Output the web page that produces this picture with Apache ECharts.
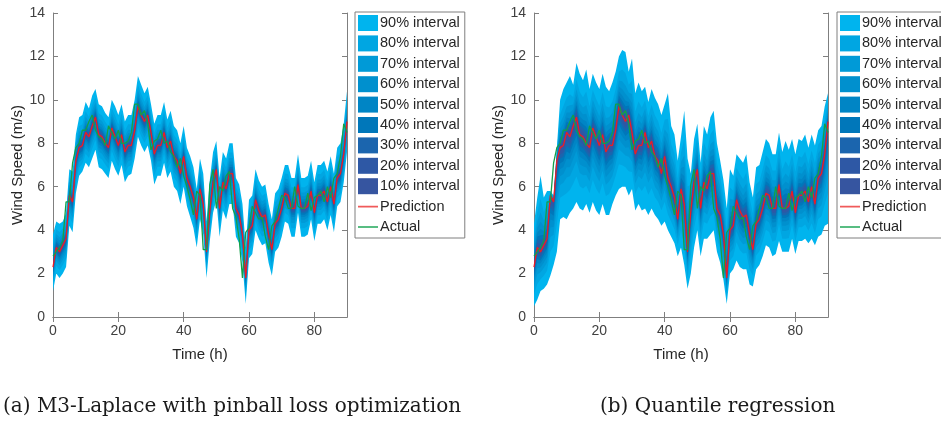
<!DOCTYPE html>
<html>
<head>
<meta charset="utf-8">
<script src="https://cdn.jsdelivr.net/npm/echarts@6/dist/echarts.min.js"></script>
<style>
  html, body { margin: 0; background: #fff; }
  #chart { width: 941px; height: 425px; }
</style>
</head>
<body>
<div id="chart"></div>
<script>
"use strict";

// hours 0..90 (x axis categories)
const hours = Array.from({ length: 91 }, (_, i) => String(i));

const prediction = [
  2.3, 3.2, 3.0, 3.3, 3.6, 5.6, 5.3, 7.2, 7.8, 7.9,
  8.5, 8.3, 8.8, 9.2, 8.4, 8.3, 8.0, 7.8, 8.7, 8.3,
  7.9, 8.4, 7.6, 7.9, 7.9, 8.6, 9.7, 9.3, 9.0, 9.3,
  8.5, 7.5, 7.9, 7.9, 8.5, 7.8, 8.1, 7.4, 7.2, 6.6,
  7.4, 6.4, 6.0, 5.5, 4.5, 5.9, 5.2, 3.0, 4.9, 6.2,
  6.8, 5.0, 6.2, 5.9, 6.6, 6.6, 5.0, 4.7, 3.8, 1.8,
  4.0, 4.2, 5.4, 4.9, 4.6, 4.7, 3.8, 3.1, 4.3, 4.5,
  5.0, 5.7, 5.6, 5.0, 5.0, 6.1, 5.0, 5.0, 5.1, 5.8,
  4.8, 5.6, 5.6, 5.8, 5.3, 6.0, 5.2, 6.4, 6.6, 7.5,
  9.0,
];

const actual = [
  2.8, 3.0, 3.2, 3.5, 5.3, 5.3, 7.1, 7.8, 8.0, 8.6,
  8.6, 9.0, 9.3, 8.6, 8.3, 8.2, 7.9, 8.8, 8.5, 8.2,
  8.6, 8.0, 8.0, 8.1, 8.5, 9.8, 9.8, 9.3, 9.5, 8.9,
  7.7, 8.1, 8.2, 8.6, 8.0, 8.1, 7.6, 7.4, 6.9, 7.3,
  6.5, 6.0, 5.4, 4.7, 5.8, 5.6, 3.1, 3.1, 6.1, 6.8,
  5.0, 6.0, 5.8, 6.5, 6.7, 5.0, 4.6, 3.6, 1.8, 3.9,
  4.1, 5.1, 4.8, 4.5, 4.6, 3.7, 3.1, 4.2, 4.4, 5.0,
  5.6, 5.5, 5.0, 5.0, 6.0, 5.1, 5.0, 5.0, 5.7, 4.9,
  5.5, 5.6, 5.8, 5.3, 6.0, 5.5, 6.4, 6.6, 7.4, 8.9,
  8.5,
];

// 90% interval bounds, panel (a) M3-Laplace
const laplaceUpper = [
  3.8, 4.4, 4.3, 4.4, 4.8, 6.8, 6.7, 8.4, 9.2, 9.3,
  9.9, 9.6, 10.2, 10.5, 9.8, 9.7, 9.4, 9.2, 10.0, 9.7,
  9.3, 9.8, 9.0, 9.3, 9.3, 10.0, 11.1, 10.7, 10.3, 10.6,
  9.8, 8.9, 9.3, 9.3, 9.9, 9.1, 9.5, 8.8, 8.6, 8.0,
  8.8, 7.8, 7.4, 6.9, 5.9, 7.3, 6.6, 4.4, 6.3, 7.6,
  8.1, 6.4, 7.6, 7.3, 8.0, 8.0, 6.4, 6.1, 5.2, 3.2,
  5.4, 5.6, 6.8, 6.3, 6.0, 6.1, 5.2, 4.5, 5.7, 5.9,
  6.4, 7.0, 7.0, 6.4, 6.4, 7.5, 6.4, 6.4, 6.5, 7.2,
  6.2, 7.0, 7.0, 7.2, 6.7, 7.4, 6.6, 7.8, 8.0, 8.9,
  10.4,
];
const laplaceLower = [
  1.2, 2.0, 1.8, 2.0, 2.3, 4.2, 3.9, 5.7, 6.5, 6.7,
  7.1, 6.9, 7.3, 7.7, 6.9, 6.8, 6.6, 6.4, 7.2, 6.8,
  6.5, 7.0, 6.2, 6.5, 6.6, 7.3, 8.3, 7.9, 7.6, 7.9,
  7.2, 6.1, 6.5, 6.5, 7.1, 6.4, 6.7, 6.0, 5.8, 5.2,
  6.0, 5.1, 4.6, 4.1, 3.2, 4.5, 3.8, 1.8, 3.5, 4.8,
  5.4, 3.7, 4.9, 4.5, 5.2, 5.2, 3.7, 3.4, 2.5, 0.6,
  2.7, 2.9, 4.0, 3.6, 3.3, 3.4, 2.5, 1.9, 3.0, 3.2,
  3.7, 4.4, 4.3, 3.7, 3.7, 4.8, 3.7, 3.7, 3.8, 4.5,
  3.5, 4.3, 4.3, 4.5, 4.0, 4.7, 3.9, 5.1, 5.3, 6.2,
  7.6,
];

// 90% interval bounds, panel (b) quantile regression
const quantileUpper = [
  4.3, 5.5, 6.5, 5.5, 5.8, 5.8, 5.6, 7.8, 10.0, 10.5,
  10.8, 11.1, 10.7, 11.7, 11.2, 10.9, 11.4, 10.5, 11.2, 10.8,
  10.5, 11.2, 10.6, 10.4, 10.8, 11.3, 12.0, 12.3, 12.2, 11.3,
  11.9, 10.3, 10.8, 10.4, 10.6, 9.9, 10.5, 10.1, 9.8, 9.3,
  9.8, 10.3, 8.8, 8.4, 7.2, 8.3, 9.5, 7.3, 6.6, 8.2,
  8.9, 7.1, 8.8, 8.4, 9.2, 9.5, 8.0, 7.2, 6.3, 5.0,
  6.8, 6.5, 7.5, 7.3, 7.1, 7.5, 6.2, 5.5, 6.9, 7.0,
  7.6, 8.2, 8.0, 7.5, 7.5, 8.5, 7.6, 8.1, 7.7, 8.2,
  7.5, 8.2, 8.1, 8.4, 7.8, 8.4, 7.9, 8.6, 8.8, 9.7,
  10.3,
];
const quantileLower = [
  0.5, 0.8, 1.2, 1.3, 1.5, 1.9, 2.4, 3.0, 4.5, 4.6,
  4.5, 4.8, 5.0, 5.3, 5.0, 4.9, 5.2, 4.8, 5.3, 4.9,
  4.7, 5.2, 4.7, 4.7, 5.2, 5.6, 5.9, 6.0, 6.0, 5.6,
  5.9, 4.9, 5.2, 4.9, 5.0, 4.7, 5.0, 4.7, 4.5, 4.2,
  4.4, 4.0, 3.7, 3.4, 2.8, 3.2, 2.4, 1.3, 2.0, 3.2,
  4.0, 2.8, 3.6, 3.6, 3.8, 4.0, 3.0, 2.5, 1.7, 0.6,
  2.0, 2.2, 2.6, 2.3, 2.2, 2.2, 1.5, 1.4, 2.2, 2.4,
  2.8, 3.3, 3.2, 2.8, 2.9, 3.5, 3.0, 3.0, 3.0, 3.6,
  2.9, 3.5, 3.5, 3.6, 3.4, 3.6, 3.3, 3.7, 3.8, 4.2,
  4.3,
];

const intervalNames = [
  "90% interval", "80% interval", "70% interval", "60% interval", "50% interval",
  "40% interval", "30% interval", "20% interval", "10% interval",
];
// width of each interval relative to the 90% one (read from the shading)
const widthRatio = [1, 0.7, 0.52, 0.4, 0.3, 0.22, 0.155, 0.097, 0.046];
const intervalColors = [
  "#00b4ee", "#00a6e2", "#009ad7", "#0090ce", "#0085c5",
  "#0077ba", "#1b65ae", "#2e58a5", "#3655a0",
];

const panels = [
  { upper: laplaceUpper, lower: laplaceLower, left: 53, legendLeft: 355 },
  { upper: quantileUpper, lower: quantileLower, left: 534, legendLeft: 837 },
];

const axisColor = "#7f7f7f";
const labelColor = "#404040";
const font = "Liberation Sans";
const predColor = "#ec1c24";
const actualColor = "#12a04a";
// thin horizontal bar icon for the line entries of the legend
const lineIcon = "path://M0,0L0.01,0L0,0.01Z M0,7.2H20V8.8H0Z M20,16L19.99,16L20,15.99Z";

const grid = [];
const xAxis = [];
const yAxis = [];
const series = [];
const legend = [];

panels.forEach((p, gi) => {
  grid.push({ left: p.left, top: 13, width: 294, height: 304 });

  const line = { show: true, lineStyle: { color: axisColor, width: 1 } };
  const xTick = { show: true, inside: true, length: 5, interval: 19, lineStyle: { color: axisColor } };
  const yTick = { show: true, inside: true, length: 5, lineStyle: { color: axisColor } };

  xAxis.push({
    type: "category", gridIndex: gi, data: hours, boundaryGap: false,
    name: "Time (h)", nameLocation: "middle", nameGap: 30,
    nameTextStyle: { fontSize: 15, color: "#262626", fontFamily: font },
    axisLine: line, axisTick: xTick, splitLine: { show: false },
    axisLabel: { interval: 19, fontSize: 14, color: labelColor, fontFamily: font, margin: 7 },
  });
  xAxis.push({
    type: "category", gridIndex: gi, data: hours, boundaryGap: false, position: "top",
    axisLine: line, axisTick: xTick, splitLine: { show: false }, axisLabel: { show: false },
  });
  yAxis.push({
    type: "value", gridIndex: gi, min: 0, max: 14, interval: 2,
    name: "Wind Speed (m/s)", nameLocation: "middle", nameGap: 28,
    nameTextStyle: { fontSize: 15, color: "#262626", fontFamily: font },
    axisLine: line, axisTick: yTick, splitLine: { show: false },
    axisLabel: { fontSize: 14, color: labelColor, fontFamily: font, margin: 8 },
  });
  yAxis.push({
    type: "value", gridIndex: gi, min: 0, max: 14, interval: 2, position: "right",
    axisLine: line, axisTick: yTick, splitLine: { show: false }, axisLabel: { show: false },
  });

  const xi = gi * 2;
  const yi = gi * 2;

  widthRatio.forEach((f, k) => {
    const lo = prediction.map((v, i) => v - f * (v - p.lower[i]));
    const hi = prediction.map((v, i) => v + f * (p.upper[i] - v));
    const stack = "band" + gi + "_" + k;
    series.push({
      type: "line", name: "base", xAxisIndex: xi, yAxisIndex: yi, stack,
      data: lo, symbol: "none", silent: true, lineStyle: { opacity: 0 },
    });
    series.push({
      type: "line", name: intervalNames[k], xAxisIndex: xi, yAxisIndex: yi, stack,
      data: hi.map((v, i) => v - lo[i]),
      symbol: "none", silent: true,
      itemStyle: { color: intervalColors[k] },
      lineStyle: { width: 0 },
      areaStyle: { color: intervalColors[k], opacity: 1 },
    });
  });

  series.push({
    type: "line", name: "Prediction", xAxisIndex: xi, yAxisIndex: yi, data: prediction,
    symbol: "none", itemStyle: { color: predColor }, lineStyle: { width: 1.3, color: predColor },
  });
  series.push({
    type: "line", name: "Actual", xAxisIndex: xi, yAxisIndex: yi, data: actual,
    symbol: "none", itemStyle: { color: actualColor }, lineStyle: { width: 1.3, color: actualColor },
  });

  legend.push({
    left: p.legendLeft, top: 12, orient: "vertical",
    itemWidth: 20, itemHeight: 16, itemGap: 4.4,
    padding: [3, 5, 3, 3],
    borderColor: axisColor, borderWidth: 1, backgroundColor: "#fff",
    selectedMode: false,
    textStyle: { fontSize: 14.5, color: "#262626", fontFamily: font, padding: [0, 0, 0, -3] },
    data: intervalNames.map((name) => ({ name, icon: "rect" })).concat([
      { name: "Prediction", icon: lineIcon, itemStyle: { color: "#f05a5a" } },
      { name: "Actual", icon: lineIcon, itemStyle: { color: "#22a85a" } },
    ]),
  });
});

const chart = echarts.init(document.getElementById("chart"), null, { renderer: "canvas" });

chart.setOption({
  backgroundColor: "#fff",
  animation: false,
  grid,
  xAxis,
  yAxis,
  legend,
  series,
  graphic: [
    {
      type: "text", left: 3, top: 397,
      style: { text: "(a) M3-Laplace with pinball loss optimization", fontSize: 20, fontFamily: "DejaVu Serif", fill: "#1a1a1a" },
    },
    {
      type: "text", left: 600, top: 397,
      style: { text: "(b) Quantile regression", fontSize: 20, fontFamily: "DejaVu Serif", fill: "#1a1a1a" },
    },
  ],
});
</script>
</body>
</html>
